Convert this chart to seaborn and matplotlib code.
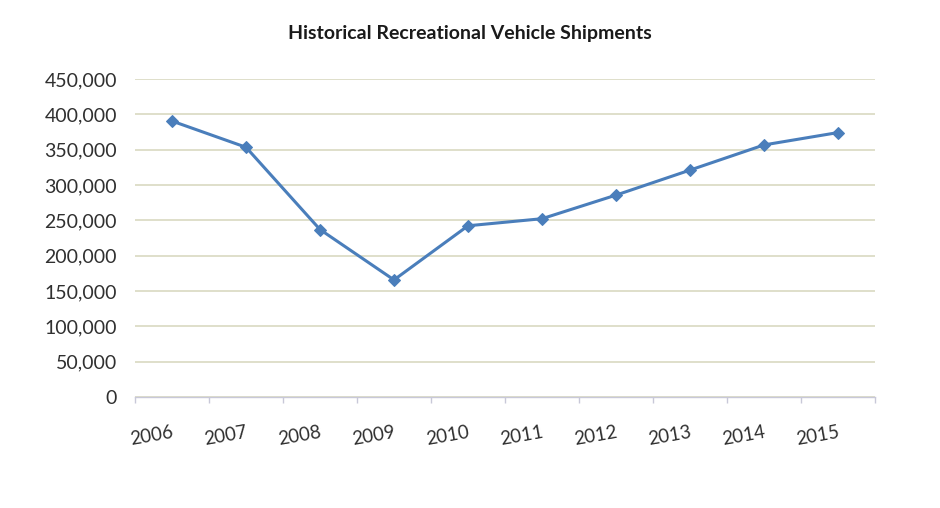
import numpy as np
import pandas as pd
import matplotlib.pyplot as plt
import matplotlib.ticker as mticker
import seaborn as sns

years = ['2006', '2007', '2008', '2009', '2010', '2011', '2012', '2013', '2014', '2015']
shipments = [390500, 353400, 237000, 165700, 242300, 252300, 285700, 321100, 356700, 374200]

df = pd.DataFrame({'Year': years, 'Shipments': shipments})

sns.set_theme(style="white")
plt.rcParams['font.family'] = ['Lato', 'DejaVu Sans']

fig = plt.figure(figsize=(9.4, 5.08), dpi=100)
ax = fig.add_axes([0.1436, 0.2185, 0.7873, 0.626])

sns.lineplot(data=df, x='Year', y='Shipments', ax=ax, color='#4a7ebb', linewidth=2.2,
             marker='D', markersize=6, markeredgecolor='#4a7ebb', sort=False)

ax.set_xlim(-0.5, len(years) - 0.5)
ax.set_ylim(0, 450000)
ax.yaxis.set_major_locator(mticker.MultipleLocator(50000))
ax.yaxis.set_major_formatter(mticker.FuncFormatter(lambda v, p: f'{int(v):,}'))
ax.grid(axis='y', color='#d6d6bc', linewidth=1.1)
ax.grid(axis='x', visible=False)
ax.set_axisbelow(True)

for s in ['top', 'right', 'left']:
    ax.spines[s].set_visible(False)
ax.spines['bottom'].set_color('#c8c8d8')
ax.spines['bottom'].set_linewidth(1)

ax.set_xticks(range(len(years)))
ax.set_xticklabels(years, rotation=10, ha='right', rotation_mode='anchor')
ax.set_xticks(np.arange(-0.5, len(years) + 0.5, 1), minor=True)
ax.tick_params(axis='x', which='major', length=0, pad=19, labelsize=13.5, labelcolor='#303030')
ax.tick_params(axis='x', which='minor', length=4, color='#c8c8d8', width=1, bottom=True)
ax.tick_params(axis='y', length=0, pad=13, labelsize=14, labelcolor='#303030')
ax.set_xlabel('')
ax.set_ylabel('')

fig.text(0.5, 0.935, 'Historical Recreational Vehicle Shipments', ha='center', va='center',
         fontsize=14, fontweight='bold', color='#1a1a1a')

fig.savefig('out.png', dpi=100)
